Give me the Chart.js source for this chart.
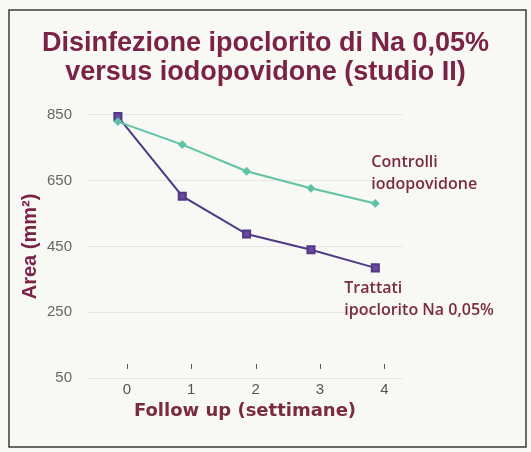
<!DOCTYPE html>
<html>
<head>
<meta charset="utf-8">
<script src="https://cdn.jsdelivr.net/npm/chart.js@4/dist/chart.umd.min.js"></script>
<style>
  html, body { margin: 0; padding: 0; background: #f8f8f5; }
  #wrap { width: 531px; height: 452px; }
</style>
</head>
<body>
<div id="wrap"><canvas id="chart" width="531" height="452"></canvas></div>
<script>
// settimane di follow up
const weeks = [0, 1, 2, 3, 4];
// area (mm2)
const controlli = [830, 760, 679, 627, 581];
const trattati = [845, 603, 488, 440, 385];
const yTicks = [50, 250, 450, 650, 850];

const maroon = '#7a2346';
const textMaroon = '#7a2c3c';

// bordo della scheda, tacche sull'asse x e etichette delle serie
const decor = {
    id: 'decor',
    beforeDraw(chart) {
        const ctx = chart.ctx;
        ctx.save();
        ctx.strokeStyle = '#3a3a3a';
        ctx.lineWidth = 1.5;
        ctx.strokeRect(9, 10, 517, 437);
        ctx.restore();
    },
    afterDatasetsDraw(chart) {
        const ctx = chart.ctx;
        const x = chart.scales.x;
        const area = chart.chartArea;
        ctx.save();
        ctx.strokeStyle = '#555';
        ctx.lineWidth = 1;
        weeks.forEach(w => {
            const px = Math.round(x.getPixelForValue(w) + 9) + 0.5;
            ctx.beginPath();
            ctx.moveTo(px, area.bottom - 14);
            ctx.lineTo(px, area.bottom - 9);
            ctx.stroke();
        });

        const c = chart.getDatasetMeta(0).data[weeks.length - 1];
        const t = chart.getDatasetMeta(1).data[weeks.length - 1];
        ctx.fillStyle = textMaroon;
        ctx.font = '600 16px "Open Sans"';
        ctx.textBaseline = 'middle';
        ctx.textAlign = 'left';
        ctx.fillText('Controlli', c.x - 4, c.y - 41);
        ctx.fillText('iodopovidone', c.x - 4, c.y - 19);
        ctx.fillText('Trattati', t.x - 31, t.y + 21);
        ctx.fillText('ipoclorito Na 0,05%', t.x - 31, t.y + 43);
        ctx.restore();
    }
};

let ctx = document.getElementById('chart').getContext('2d');

let chart = new Chart(ctx, {
    type: 'line',
    data: {
        datasets: [{
            label: 'Controlli iodopovidone',
            data: weeks.map((w, i) => ({ x: w, y: controlli[i] })),
            borderColor: '#5ec3a6',
            backgroundColor: '#5ec3a6',
            borderWidth: 2,
            pointStyle: 'rectRot',
            pointRadius: 3,
            tension: 0,
            clip: false
        }, {
            label: 'Trattati ipoclorito Na 0,05%',
            data: weeks.map((w, i) => ({ x: w, y: trattati[i] })),
            borderColor: '#4f3a86',
            backgroundColor: '#6a4aa0',
            borderWidth: 2,
            pointStyle: 'rect',
            pointRadius: 5,
            tension: 0,
            clip: false
        }]
    },
    options: {
        responsive: false,
        animation: false,
        layout: { padding: 0 },
        plugins: {
            legend: { display: false },
            tooltip: { enabled: false },
            title: {
                display: true,
                text: ['Disinfezione ipoclorito di Na 0,05%', 'versus iodopovidone (studio II)'],
                color: maroon,
                font: { family: '"Liberation Sans", Arial, sans-serif', size: 27, weight: 'bold', lineHeight: 1.074 },
                padding: { top: 29, bottom: 28 }
            }
        },
        scales: {
            x: {
                type: 'linear',
                min: -0.48,
                max: 4.43,
                grid: { display: false, drawTicks: false },
                border: { display: false },
                afterBuildTicks: s => { s.ticks = weeks.map(v => ({ value: v })); },
                afterFit: s => { s.height = 74; },
                ticks: {
                    color: '#555',
                    padding: 3,
                    labelOffset: 9,
                    font: { family: '"Liberation Sans", Arial, sans-serif', size: 15 }
                },
                title: {
                    display: true,
                    text: 'Follow up (settimane)',
                    color: textMaroon,
                    font: { family: '"DejaVu Sans", sans-serif', size: 18, weight: 'bold', lineHeight: 1.2 },
                    padding: { top: 0, bottom: 30 }
                }
            },
            y: {
                min: 50,
                max: 850,
                grid: { color: '#e6e6e4', lineWidth: 1, drawTicks: false },
                border: { display: false },
                afterBuildTicks: s => { s.ticks = yTicks.map(v => ({ value: v })); },
                afterFit: s => { s.width = 87; },
                ticks: {
                    color: '#666',
                    padding: 15,
                    font: { family: '"Liberation Sans", Arial, sans-serif', size: 15 }
                },
                title: {
                    display: true,
                    text: 'Area (mm²)',
                    color: maroon,
                    font: { family: '"Liberation Sans", Arial, sans-serif', size: 20, weight: 'bold', lineHeight: 1.2 },
                    padding: { top: 18, bottom: 0 }
                }
            },
            // spazio vuoto a destra per le etichette delle serie
            spacer: {
                type: 'linear',
                position: 'right',
                display: true,
                grid: { display: false, drawTicks: false },
                border: { display: false },
                ticks: { display: false },
                afterFit: s => { s.width = 128; }
            }
        }
    },
    plugins: [decor]
});
</script>
</body>
</html>
